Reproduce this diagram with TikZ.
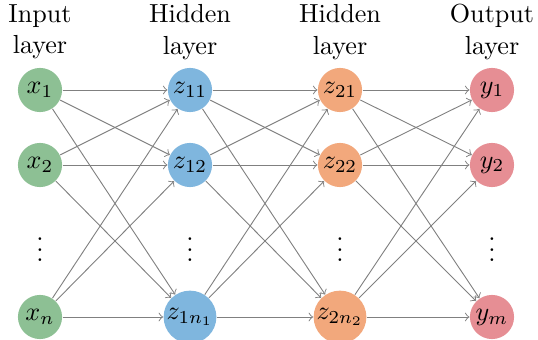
\documentclass[tikz,border=0pt]{standalone}
\usetikzlibrary{arrows}
\definecolor{cin}{RGB}{141,192,148}
\definecolor{chid}{RGB}{127,182,222}
\definecolor{chidb}{RGB}{242,168,124}
\definecolor{cout}{RGB}{230,142,148}
\definecolor{cedge}{RGB}{128,128,128}
\tikzset{
  neuron/.style={circle, minimum size=16.9pt, inner sep=0.4pt},
  innode/.style={neuron, fill=cin},
  h1node/.style={neuron, fill=chid},
  h2node/.style={neuron, fill=chidb},
  outnode/.style={neuron, fill=cout},
  conn/.style={->, draw=cedge, line width=0.35pt},
  lbl/.style={align=center, inner sep=0pt, font=\normalsize},
}
\begin{document}
\begin{tikzpicture}[x=0.383pt, y=-0.383pt]
\useasboundingbox (0,0) rectangle (538,340);
% labels
\node[lbl] (li) at (40,32) {Input\\layer};
\node[lbl] (lh1) at (190,32) {Hidden\\layer};
\node[lbl] (lh2) at (340,32) {Hidden\\layer};
\node[lbl] (lo) at (492,32) {Output\\layer};
% nodes
\node[innode] (x1) at (40,90) {$x_1$};
\node[innode] (x2) at (40,165) {$x_2$};
\node (xd) at (40,242) {$\vdots$};
\node[innode] (xn) at (40,317) {$x_n$};
\node[h1node] (z11) at (190,90) {$z_{11}$};
\node[h1node] (z12) at (190,165) {$z_{12}$};
\node (zd1) at (190,242) {$\vdots$};
\node[h1node] (z1n) at (190,317) {$z_{1n_1}$};
\node[h2node] (z21) at (340,90) {$z_{21}$};
\node[h2node] (z22) at (340,165) {$z_{22}$};
\node (zd2) at (340,242) {$\vdots$};
\node[h2node] (z2n) at (340,317) {$z_{2n_2}$};
\node[outnode] (y1) at (492,90) {$y_1$};
\node[outnode] (y2) at (492,165) {$y_2$};
\node (yd) at (492,242) {$\vdots$};
\node[outnode] (ym) at (492,317) {$y_m$};
% connections
\foreach \a in {x1,x2,xn}
  \foreach \b in {z11,z12,z1n}
    \draw[conn] (\a) -- (\b);
\foreach \a in {z11,z12,z1n}
  \foreach \b in {z21,z22,z2n}
    \draw[conn] (\a) -- (\b);
\foreach \a in {z21,z22,z2n}
  \foreach \b in {y1,y2,ym}
    \draw[conn] (\a) -- (\b);
\end{tikzpicture}
\end{document}
